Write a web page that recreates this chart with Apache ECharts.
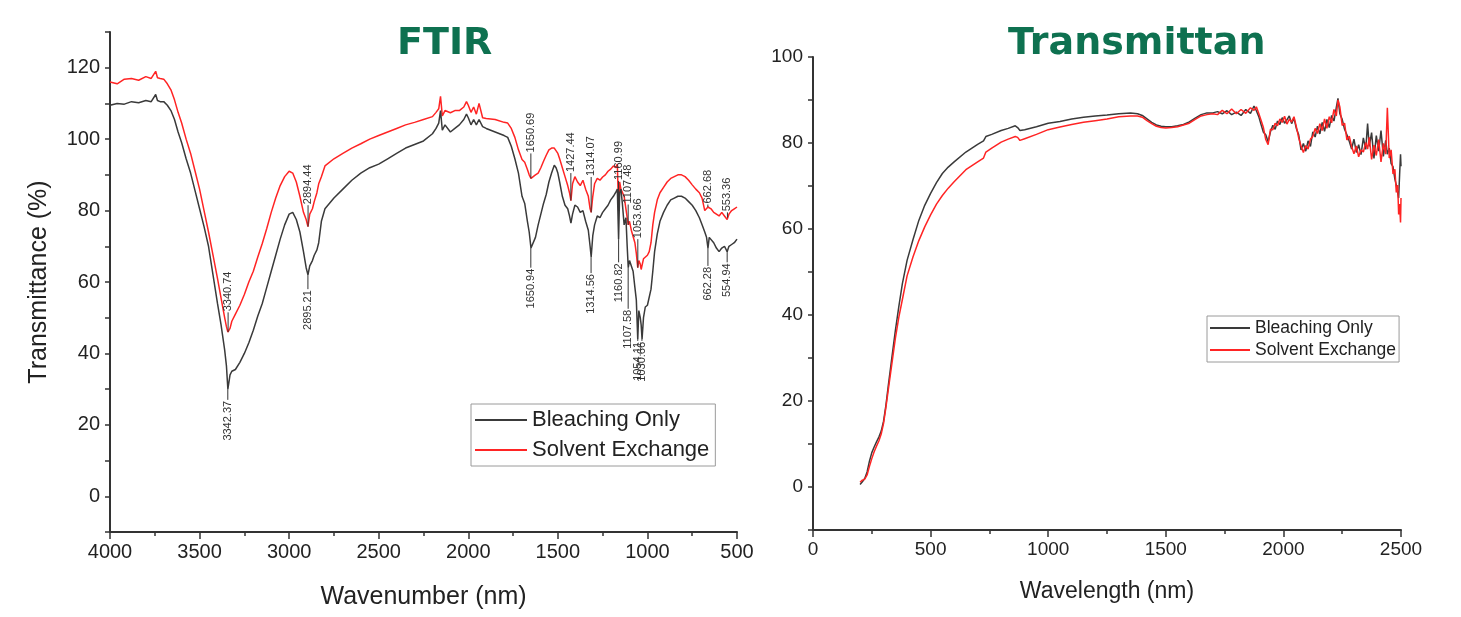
<!DOCTYPE html>
<html>
<head>
<meta charset="utf-8">
<script src="https://cdn.jsdelivr.net/npm/echarts@6/dist/echarts.min.js"></script>
<style>
  html, body { margin: 0; padding: 0; background: #fff; }
  #main { width: 1461px; height: 617px; }
</style>
</head>
<body>
<div id="main"></div>
<script>
// FTIR spectrum (wavenumber, descending)
var ftirWn = [4000, 3960, 3920, 3880, 3840, 3800, 3770, 3745, 3735, 3720, 3700, 3680, 3660, 3640, 3620, 3600,
  3575, 3550, 3525, 3500, 3475, 3450, 3425, 3400, 3380, 3360, 3350, 3342, 3330, 3320, 3300, 3275, 3250, 3225,
  3200, 3175, 3150, 3125, 3100, 3075, 3050, 3025, 3000, 2980, 2960, 2940, 2920, 2905, 2895, 2885, 2870, 2860,
  2845, 2835, 2820, 2800, 2750, 2700, 2650, 2600, 2550, 2500, 2450, 2400, 2350, 2300, 2250, 2200, 2180, 2165,
  2155, 2145, 2130, 2100, 2075, 2050, 2025, 2010, 2000, 1985, 1970, 1955, 1940, 1920, 1900, 1850, 1800, 1780,
  1760, 1740, 1720, 1700, 1685, 1670, 1660, 1650, 1640, 1625, 1610, 1595, 1580, 1565, 1550, 1535, 1520, 1510,
  1500, 1490, 1475, 1460, 1445, 1435, 1427, 1418, 1405, 1390, 1375, 1360, 1345, 1330, 1320, 1314, 1305, 1295,
  1280, 1265, 1250, 1235, 1220, 1205, 1190, 1178, 1168, 1161, 1155, 1148, 1140, 1130, 1120, 1113, 1107, 1100,
  1090, 1080, 1070, 1062, 1054, 1048, 1040, 1035, 1030, 1022, 1012, 1000, 990, 980, 970, 960, 945, 930, 910,
  890, 870, 850, 830, 810, 790, 770, 750, 730, 710, 695, 680, 670, 662, 655, 645, 630, 615, 600, 585, 570, 560,
  555, 545, 530, 515, 500];
var ftirBleach = [109.5, 110, 109.8, 110.5, 110.2, 110.8, 110.5, 112.5, 110.8, 110.5, 110.5, 109.5, 108, 105.5, 102, 99,
  94.5, 90.5, 85.5, 80.5, 75.5, 70, 62, 54, 48, 41, 36.5, 30, 34, 35, 35.5, 37.5, 40, 43,
  46.5, 50.5, 54, 58.5, 63, 67.5, 72, 76, 79, 79.5, 77.5, 74, 68.5, 64, 62, 64.5, 66, 67.5,
  69, 71, 77, 80.5, 83.5, 86, 88.5, 90.5, 92, 93, 94.5, 96, 97.5, 98.5, 99.5, 101.5, 103, 104.5,
  108, 102.5, 104, 102, 103, 104, 105.5, 107, 106, 104, 105.5, 104, 105.5, 103.5, 103, 102, 101, 100.5,
  98, 94.5, 90.5, 84, 82, 77, 74, 69.5, 70, 72.5, 76, 79, 82, 84.5, 88, 90.5, 92.7, 92,
  90.5, 88, 84, 81.5, 80.5, 78.5, 76.5, 79, 81.5, 81, 79.5, 80, 77, 74.5, 70, 67, 73, 76,
  78.5, 78, 79.5, 80.5, 81.5, 83, 84, 85, 86, 72, 85, 86, 82, 76, 78, 70, 64, 66,
  66.5, 63, 58.5, 55, 44, 52, 50, 48, 44, 50, 53, 53.5, 54, 58, 63, 68.5, 73.5, 77, 79.5,
  81.5, 83, 83.5, 84, 84, 83.5, 82.5, 81.5, 80, 78, 76, 74, 72.5, 69.5, 72.5, 73, 71, 69.5, 68.5, 69.5, 70, 69.5,
  68.5, 70, 70.5, 71, 72];
var ftirSolvent = [116, 115.5, 116.8, 117, 116.5, 117.5, 117, 119, 117.2, 117, 116.8, 115.5, 113.8, 111, 107.5, 104.5,
  100, 96, 91, 86, 80, 74, 67.5, 61, 55.5, 50, 47.5, 46, 47, 49, 51, 53.5, 56.5, 60,
  63, 67, 70.8, 75, 79.5, 83.5, 87, 89.5, 91, 90.5, 88, 84, 79.5, 77.5, 75.5, 79, 80.5, 82.5,
  85, 87.5, 89.5, 92.5, 94.5, 96, 97.5, 98.7, 100, 101, 102, 103, 104, 104.7, 105.5, 106.3, 107.5, 108.5,
  112, 106.5, 108, 107.4, 108, 108, 109, 110.5, 109.5, 107.5, 109, 107, 110, 106, 105.8, 105.5, 104.7, 104.5,
  103, 100.5, 97, 94.3, 93.5, 91.5, 90, 89, 89.5, 90, 90.5, 92, 93.8, 95.5, 97, 97.5, 97.5, 97,
  96, 94.5, 92, 89.5, 87, 85, 82.8, 87.5, 89.5, 88, 87, 88.5, 86, 84, 80.5, 79.5, 84, 87.5,
  89, 88.5, 89.4, 90, 91, 91.6, 92.5, 92, 93, 80, 88, 86, 86, 84, 80.5, 78, 76, 77,
  74.5, 74, 71, 68, 64, 66, 65, 63.5, 64, 66.5, 66, 67.5, 68.5, 71, 76, 79.5, 83, 85, 86.5,
  88, 89, 89.5, 90, 90, 89.5, 88.5, 87.2, 86, 85, 83.5, 80, 79.5, 81, 81.5, 80.5, 79.5, 79, 78.5, 79.5, 78.5, 79,
  77.5, 79, 80, 80.5, 81];

// FTIR peak annotations: wavenumber, curve value, label start value
var peakBleach = [[3342.37, 30, 27], [2895.21, 62, 58], [1650.94, 69.5, 64], [1314.56, 67, 62.5], [1160.82, 72, 65.5],
  [1107.58, 64, 52.5], [1054.11, 44, 43.5], [1030.66, 44, 43.5], [662.28, 69.5, 64.5], [554.94, 68.5, 65.5]];
var peakBleachText = ['3342.37', '2895.21', '1650.94', '1314.56', '1160.82', '1107.58', '1054.11', '1030.66', '662.28', '554.94'];
var peakSolvent = [[3340.74, 46, 51.5], [2894.44, 75.5, 81.5], [1650.69, 89, 96], [1427.44, 82.8, 90.5], [1314.07, 79.5, 89.4],
  [1160.99, 80, 88.3], [1107.48, 76, 81.7], [1053.66, 64, 72], [662.68, 81, 81.7], [553.36, 78, 79.5]];
var peakSolventText = ['3340.74', '2894.44', '1650.69', '1427.44', '1314.07', '1160.99', '1107.48', '1053.66', '662.68', '553.36'];

// UV-Vis-NIR transmittance
var wl = [200, 210, 220, 230, 240, 250, 260, 270, 280, 290, 300, 310, 320, 335, 350, 365, 380, 400, 425, 450,
  475, 500, 525, 550, 575, 600, 650, 700, 725, 735, 760, 800, 830, 860, 870, 880, 900, 950, 1000, 1050,
  1100, 1150, 1200, 1250, 1300, 1350, 1380, 1400, 1420, 1440, 1460, 1480, 1500, 1525, 1550, 1575, 1600, 1625,
  1650, 1675, 1700, 1720, 1740, 1760, 1780, 1800, 1820, 1840, 1860, 1875, 1885, 1895, 1905, 1915, 1925, 1935,
  1945, 1955, 1965, 1975, 1985, 1995, 2005, 2015, 2025, 2035, 2045, 2055, 2065, 2075, 2085, 2095, 2105, 2115,
  2125, 2135, 2145, 2155, 2165, 2175, 2185, 2195, 2205, 2215, 2225, 2232, 2240, 2250, 2260, 2270, 2280, 2290,
  2300, 2310, 2320, 2330, 2340, 2350, 2358, 2365, 2375, 2385, 2395, 2405, 2415, 2425, 2435, 2442, 2450, 2458,
  2466, 2474, 2480, 2486, 2490, 2494, 2498, 2500];
var transBleach = [0.6, 1.2, 2, 3.5, 6, 8, 9.3, 10.5, 11.6, 13, 15.3, 19, 23.5, 30, 36.3, 42, 47.3, 52.7, 57.5, 62,
  65.5, 68.3, 70.8, 72.9, 74.4, 75.6, 77.9, 79.7, 80.5, 81.5, 82, 82.9, 83.4, 84, 83.6, 82.9, 83.1, 83.8, 84.6, 85,
  85.6, 86, 86.3, 86.5, 86.8, 87, 86.8, 86.4, 85.6, 84.8, 84.2, 83.9, 83.8, 83.8, 84, 84.3, 84.9, 85.8,
  86.6, 87, 87, 87.3, 86.8, 87.5, 86.6, 87.2, 86.4, 87.8, 86.9, 88.6, 87.5, 86.2, 84.3, 82.5, 81.9, 80.3,
  82.6, 84.1, 83.2, 85.1, 84.3, 85.9, 84.6, 85.4, 86.3, 84.5, 85.8, 83.4, 81.9, 78.4, 79.9, 78.1, 80.5, 79.2,
  82.6, 81.4, 83.9, 82.1, 84.8, 82.7, 85.5, 83.6, 86.4, 85.1, 88.3, 90.4, 86.8, 85.5, 83.2, 81.9, 80.4, 78.6,
  80.9, 77.8, 79.6, 77.3, 81.2, 78.5, 84.5, 79.2, 82.4, 76.4, 81.7, 78.1, 82.9, 76.9, 80.6, 77.4, 78.8, 75.2,
  74.5, 71.6, 70.2, 68.4, 67.2, 72.5, 77.4, 74.6];
var transSolvent = [1.1, 1.6, 1.8, 2.8, 4.8, 6.6, 8.2, 9.5, 10.7, 12.3, 14.8, 18.5, 22.6, 28.5, 34.5, 39.5, 43.6, 49.1, 53.5, 57.3,
  60.5, 63.3, 65.8, 67.8, 69.5, 71, 73.8, 75.6, 76.5, 77.9, 78.8, 80.2, 80.9, 81.5, 81.3, 80.6, 81, 82, 83.1, 83.7,
  84.3, 84.8, 85.2, 85.6, 86.1, 86.3, 86.3, 86, 85.2, 84.5, 83.9, 83.6, 83.5, 83.6, 83.8, 84.2, 84.6, 85.5,
  86.3, 86.6, 86.8, 86.6, 87.6, 86.8, 87.9, 86.8, 87.8, 86.9, 88.2, 87.6, 88.4, 86.9, 85.3, 83.6, 80.8, 79.6,
  83.2, 83.1, 84.6, 84, 85.6, 84.8, 86.2, 84.4, 85.5, 84.9, 86.1, 83.8, 81.2, 79.3, 77.8, 79.4, 78.6, 80.9,
  81.5, 83.4, 82.2, 84.5, 82.9, 85.6, 83.4, 86.1, 84.7, 87.8, 86.3, 90, 88.4, 84.1, 84.6, 80.7, 81.6, 79.2,
  77.5, 79.3, 76.8, 78.4, 77.9, 80.1, 78.6, 81.3, 76.2, 79.5, 77.1, 80.8, 75.6, 79.9, 77.4, 88.2, 76.5, 78.4,
  72.8, 73.9, 68.5, 70.2, 63.4, 65.8, 61.5, 67.2];

var legendNames = ['Bleaching Only', 'Solvent Exchange'];
var BLACK = '#3a3a3a';
var RED = '#ff2424';
var FONT = 'Liberation Sans';

function pairs(xs, ys) {
  var out = [];
  for (var i = 0; i < xs.length; i++) {
    out.push([xs[i], ys[i]]);
  }
  return out;
}

function peakRenderer(texts) {
  return function (params, api) {
    var from = api.value(1);
    var to = api.value(2);
    var p0 = api.coord([api.value(0), from]);
    var p1 = api.coord([api.value(0), to]);
    var up = to > from;
    return {
      type: 'group',
      children: [{
        type: 'line',
        shape: { x1: p0[0], y1: p0[1], x2: p1[0], y2: p1[1] },
        style: { stroke: '#333', lineWidth: 1 }
      }, {
        type: 'text',
        x: p1[0],
        y: p1[1] + (up ? -1 : 1),
        rotation: Math.PI / 2,
        style: {
          text: texts[params.dataIndex],
          align: up ? 'left' : 'right',
          verticalAlign: 'middle',
          font: '11px ' + FONT,
          fill: '#333'
        }
      }]
    };
  };
}

function everyOther(step, lo, hi) {
  return function (v) {
    return (v % step === 0 && v >= lo && v <= hi) ? String(v) : '';
  };
}

function plain(v) {
  return String(v);
}

var axisLineStyle = { color: '#333', width: 2 };
var tickStyle = { color: '#333', width: 1.5 };

var chart = echarts.init(document.getElementById('main'));
var option = {
  animation: false,
  textStyle: { fontFamily: FONT },
  title: [{
    text: 'FTIR',
    left: 392,
    top: 20,
    textStyle: { fontSize: 38, fontWeight: 'bold', color: '#0e7150', fontFamily: 'DejaVu Sans' }
  }, {
    text: 'Transmittan',
    left: 1003,
    top: 20,
    textStyle: { fontSize: 38, fontWeight: 'bold', color: '#0e7150', fontFamily: 'DejaVu Sans' }
  }],
  legend: [{
    data: legendNames,
    orient: 'vertical',
    left: 471,
    top: 404,
    padding: [5, 6, 5, 4],
    itemGap: 8,
    itemWidth: 52,
    itemHeight: 2,
    icon: 'rect',
    borderColor: '#9a9a9a',
    borderWidth: 1,
    textStyle: { fontSize: 22, color: '#222', fontFamily: FONT }
  }, {
    data: legendNames,
    orient: 'vertical',
    left: 1207,
    top: 316,
    padding: [3, 3, 3, 3],
    itemGap: 4,
    itemWidth: 40,
    itemHeight: 2,
    icon: 'rect',
    borderColor: '#9a9a9a',
    borderWidth: 1,
    textStyle: { fontSize: 17.5, color: '#222', fontFamily: FONT }
  }],
  grid: [
    { left: 110, top: 32, width: 627, height: 500 },
    { left: 813, top: 57, width: 588, height: 473 }
  ],
  xAxis: [{
    gridIndex: 0,
    type: 'value',
    min: 500,
    max: 4000,
    interval: 500,
    inverse: true,
    name: 'Wavenumber (nm)',
    nameLocation: 'middle',
    nameGap: 53,
    nameTextStyle: { fontSize: 25, color: '#222' },
    axisLine: { onZero: false, lineStyle: axisLineStyle },
    axisTick: { length: 7, lineStyle: tickStyle },
    minorTick: { show: true, splitNumber: 2, length: 4, lineStyle: tickStyle },
    axisLabel: { fontSize: 20, color: '#222', margin: 10, formatter: plain },
    splitLine: { show: false }
  }, {
    gridIndex: 1,
    type: 'value',
    min: 0,
    max: 2500,
    interval: 500,
    name: 'Wavelength (nm)',
    nameLocation: 'middle',
    nameGap: 50,
    nameTextStyle: { fontSize: 23, color: '#222' },
    axisLine: { onZero: false, lineStyle: axisLineStyle },
    axisTick: { length: 7, lineStyle: tickStyle },
    minorTick: { show: true, splitNumber: 2, length: 4, lineStyle: tickStyle },
    axisLabel: { fontSize: 19, color: '#222', margin: 10, formatter: plain },
    splitLine: { show: false }
  }],
  yAxis: [{
    gridIndex: 0,
    type: 'value',
    min: -10,
    max: 130,
    interval: 10,
    name: 'Transmittance (%)',
    nameLocation: 'middle',
    nameGap: 58,
    nameTextStyle: { fontSize: 25, color: '#222' },
    axisLine: { show: true, onZero: false, lineStyle: axisLineStyle },
    axisTick: { show: true, length: 5, lineStyle: tickStyle },
    axisLabel: { fontSize: 20, color: '#222', margin: 10, formatter: everyOther(20, 0, 120) },
    splitLine: { show: false }
  }, {
    gridIndex: 1,
    type: 'value',
    min: -10,
    max: 100,
    interval: 10,
    axisLine: { show: true, onZero: false, lineStyle: axisLineStyle },
    axisTick: { show: true, length: 5, lineStyle: tickStyle },
    axisLabel: { fontSize: 19, color: '#222', margin: 10, formatter: everyOther(20, 0, 100) },
    splitLine: { show: false }
  }],
  series: [{
    name: 'Bleaching Only',
    type: 'line',
    xAxisIndex: 0,
    yAxisIndex: 0,
    symbol: 'none',
    lineStyle: { color: BLACK, width: 1.5 },
    itemStyle: { color: BLACK },
    data: pairs(ftirWn, ftirBleach),
    z: 3
  }, {
    name: 'Solvent Exchange',
    type: 'line',
    xAxisIndex: 0,
    yAxisIndex: 0,
    symbol: 'none',
    lineStyle: { color: RED, width: 1.5 },
    itemStyle: { color: RED },
    data: pairs(ftirWn, ftirSolvent),
    z: 2
  }, {
    name: 'peaksBleach',
    type: 'custom',
    xAxisIndex: 0,
    yAxisIndex: 0,
    renderItem: peakRenderer(peakBleachText),
    data: peakBleach,
    z: 4
  }, {
    name: 'peaksSolvent',
    type: 'custom',
    xAxisIndex: 0,
    yAxisIndex: 0,
    renderItem: peakRenderer(peakSolventText),
    data: peakSolvent,
    z: 4
  }, {
    name: 'Bleaching Only',
    type: 'line',
    xAxisIndex: 1,
    yAxisIndex: 1,
    symbol: 'none',
    lineStyle: { color: BLACK, width: 1.5 },
    itemStyle: { color: BLACK },
    data: pairs(wl, transBleach),
    z: 2
  }, {
    name: 'Solvent Exchange',
    type: 'line',
    xAxisIndex: 1,
    yAxisIndex: 1,
    symbol: 'none',
    lineStyle: { color: RED, width: 1.5 },
    itemStyle: { color: RED },
    data: pairs(wl, transSolvent),
    z: 3
  }]
};
chart.setOption(option);
</script>
</body>
</html>
